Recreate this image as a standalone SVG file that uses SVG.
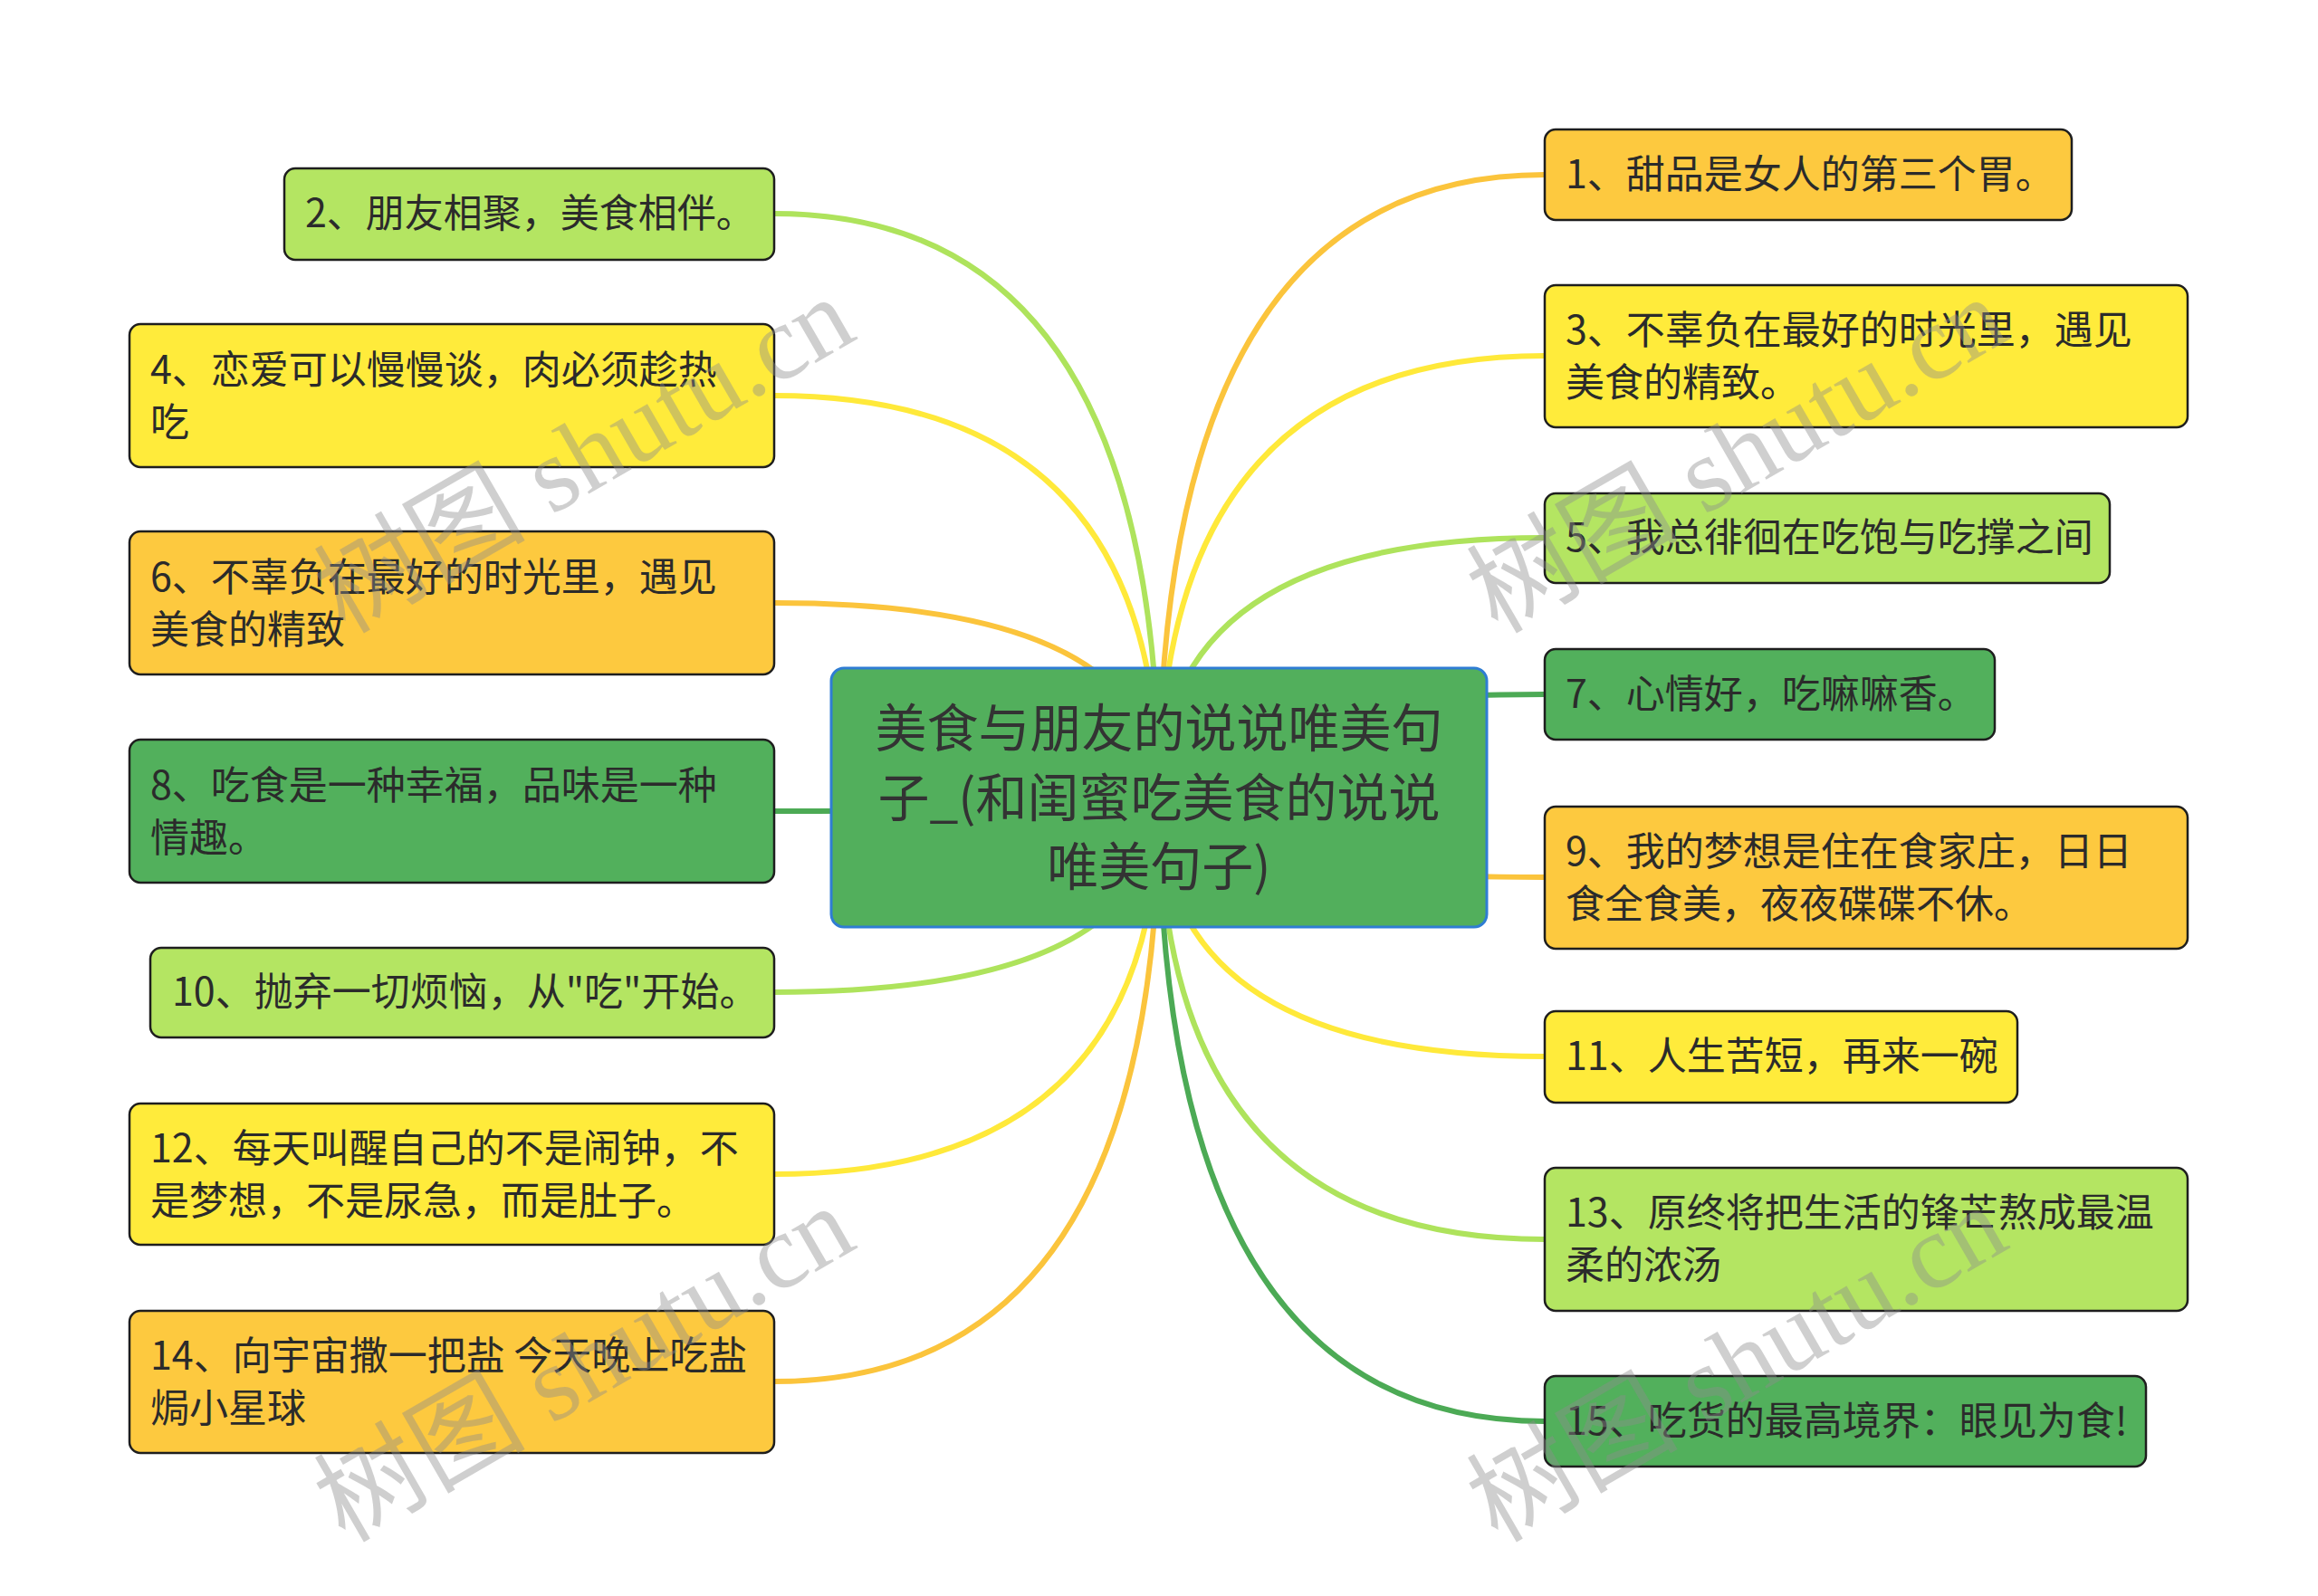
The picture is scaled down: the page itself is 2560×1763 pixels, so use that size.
<svg xmlns="http://www.w3.org/2000/svg" width="2560" height="1763" viewBox="0 0 2560 1763">
<style>
.bg{fill:#ffffff}
.n rect{stroke:#1e1e1e;stroke-width:2.5}
.o rect{fill:#fdc93f}
.y rect{fill:#ffeb3b}
.l rect{fill:#b4e562}
.g rect{fill:#52b05c}
.t{font-family:"Noto Sans CJK SC","Liberation Sans",sans-serif;font-size:43px;fill:#2b2b2b}
.ct{font-family:"Noto Sans CJK SC","Liberation Sans",sans-serif;font-size:57px;fill:#333333;text-anchor:middle}
.c path{fill:none;stroke-width:6;stroke-linecap:round}
.co{stroke:#fbc43c}
.cy{stroke:#ffe93a}
.cl{stroke:#aee35c}
.cg{stroke:#4caa55}
.wm{font-family:"Liberation Serif","Noto Sans CJK SC",serif;font-size:117px;fill:#8c8c8c;fill-opacity:0.42;text-anchor:middle}
</style>
<rect class="bg" x="0" y="0" width="2560" height="1763"/>
<g id="connectors" class="c">
<path class="co" d="M1280,881 Q1280,193 1706,193"/>
<path class="cy" d="M1280,881 Q1280,393 1706,393"/>
<path class="cl" d="M1280,881 Q1280,594 1706,594"/>
<path class="cg" d="M1280,881 Q1280,767 1706,767"/>
<path class="co" d="M1280,881 Q1280,969 1706,969"/>
<path class="cy" d="M1280,881 Q1280,1167 1706,1167"/>
<path class="cl" d="M1280,881 Q1280,1369 1706,1369"/>
<path class="cg" d="M1280,881 Q1280,1570 1706,1570"/>
<path class="cl" d="M1280,881 Q1280,236 855,236"/>
<path class="cy" d="M1280,881 Q1280,437 855,437"/>
<path class="co" d="M1280,881 Q1280,666 855,666"/>
<path class="cg" d="M1280,881 Q1280,896 855,896"/>
<path class="cl" d="M1280,881 Q1280,1096 855,1096"/>
<path class="cy" d="M1280,881 Q1280,1297 855,1297"/>
<path class="co" d="M1280,881 Q1280,1526 855,1526"/>
</g>
<g id="center">
<rect x="918" y="738" width="724" height="286" rx="14" fill="#52af5c" stroke="#2f7dd3" stroke-width="3"/>
<text class="ct" x="1280" y="825">美食与朋友的说说唯美句</text>
<text class="ct" x="1280" y="902">子_(和闺蜜吃美食的说说</text>
<text class="ct" x="1280" y="978">唯美句子)</text>
</g>
<g id="n1" class="n o"><rect x="1706" y="143" width="582" height="100" rx="12"/><text class="t" x="1729" y="208">1、甜品是女人的第三个胃。</text></g>
<g id="n3" class="n y"><rect x="1706" y="315" width="710" height="157" rx="12"/><text class="t" x="1729" y="380">3、不辜负在最好的时光里，遇见</text><text class="t" x="1729" y="438">美食的精致。</text></g>
<g id="n5" class="n l"><rect x="1706" y="545" width="624" height="99" rx="12"/><text class="t" x="1729" y="609">5、我总徘徊在吃饱与吃撑之间</text></g>
<g id="n7" class="n g"><rect x="1706" y="717" width="497" height="100" rx="12"/><text class="t" x="1729" y="782">7、心情好，吃嘛嘛香。</text></g>
<g id="n9" class="n o"><rect x="1706" y="891" width="710" height="157" rx="12"/><text class="t" x="1729" y="956">9、我的梦想是住在食家庄，日日</text><text class="t" x="1729" y="1014">食全食美，夜夜碟碟不休。</text></g>
<g id="n11" class="n y"><rect x="1706" y="1117" width="522" height="101" rx="12"/><text class="t" x="1729" y="1182">11、人生苦短，再来一碗</text></g>
<g id="n13" class="n l"><rect x="1706" y="1290" width="710" height="158" rx="12"/><text class="t" x="1729" y="1355">13、原终将把生活的锋芒熬成最温</text><text class="t" x="1729" y="1413">柔的浓汤</text></g>
<g id="n15" class="n g"><rect x="1706" y="1520" width="664" height="100" rx="12"/><text class="t" x="1729" y="1585">15、吃货的最高境界：眼见为食!</text></g>
<g id="n2" class="n l"><rect x="314" y="186" width="541" height="101" rx="12"/><text class="t" x="337" y="251">2、朋友相聚，美食相伴。</text></g>
<g id="n4" class="n y"><rect x="143" y="358" width="712" height="158" rx="12"/><text class="t" x="166" y="424">4、恋爱可以慢慢谈，肉必须趁热</text><text class="t" x="166" y="482">吃</text></g>
<g id="n6" class="n o"><rect x="143" y="587" width="712" height="158" rx="12"/><text class="t" x="166" y="653">6、不辜负在最好的时光里，遇见</text><text class="t" x="166" y="711">美食的精致</text></g>
<g id="n8" class="n g"><rect x="143" y="817" width="712" height="158" rx="12"/><text class="t" x="166" y="883">8、吃食是一种幸福，品味是一种</text><text class="t" x="166" y="941">情趣。</text></g>
<g id="n10" class="n l"><rect x="166" y="1047" width="689" height="99" rx="12"/><text class="t" x="190" y="1111">10、抛弃一切烦恼，从"吃"开始。</text></g>
<g id="n12" class="n y"><rect x="143" y="1219" width="712" height="156" rx="12"/><text class="t" x="166" y="1284">12、每天叫醒自己的不是闹钟，不</text><text class="t" x="166" y="1342">是梦想，不是尿急，而是肚子。</text></g>
<g id="n14" class="n o"><rect x="143" y="1448" width="712" height="157" rx="12"/><text class="t" x="166" y="1513">14、向宇宙撒一把盐 今天晚上吃盐</text><text class="t" x="166" y="1571">焗小星球</text></g>
<g id="watermarks">
<text class="wm" transform="translate(665,537) rotate(-30)">树图 shutu.cn</text>
<text class="wm" transform="translate(1938,537) rotate(-30)">树图 shutu.cn</text>
<text class="wm" transform="translate(665,1541) rotate(-30)">树图 shutu.cn</text>
<text class="wm" transform="translate(1938,1541) rotate(-30)">树图 shutu.cn</text>
</g>
</svg>
